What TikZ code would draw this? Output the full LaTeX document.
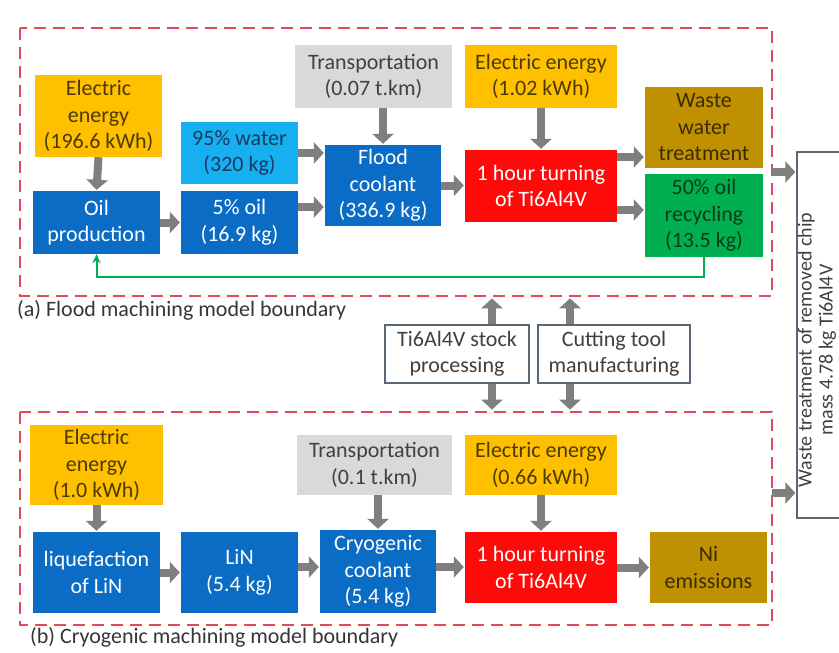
\documentclass[tikz,border=0pt]{standalone}
\usepackage{fontspec}
\setmainfont{Carlito}
\usetikzlibrary{arrows.meta}
\definecolor{cOrange}{HTML}{FFC000}
\definecolor{cOrangeT}{HTML}{4D3A00}
\definecolor{cBlue}{HTML}{0A6CC4}
\definecolor{cLBlue}{HTML}{16B0F0}
\definecolor{cLBlueT}{HTML}{1B3A63}
\definecolor{cGray}{HTML}{D9D9D9}
\definecolor{cGrayT}{HTML}{404040}
\definecolor{cRed}{HTML}{FF0A0A}
\definecolor{cGold}{HTML}{BF9000}
\definecolor{cGoldT}{HTML}{3A2C00}
\definecolor{cGreen}{HTML}{00B050}
\definecolor{cGreenT}{HTML}{0E3A1C}
\definecolor{cArrow}{HTML}{7F7F7F}
\definecolor{cDash}{HTML}{E24A5A}
\definecolor{cFrame}{HTML}{5A6878}
\begin{document}
\begin{tikzpicture}[x=1pt,y=-1pt,
  box/.style={rectangle, inner sep=2pt, align=center, font=\fontsize{22}{26.5}\selectfont},
  obox/.style={box, fill=cOrange, text=cOrangeT},
  bbox/.style={box, fill=cBlue, text=white},
  lbox/.style={box, fill=cLBlue, text=cLBlueT},
  gbox/.style={box, fill=cGray, text=cGrayT},
  rbox/.style={box, fill=cRed, text=white},
  aubox/.style={box, fill=cGold, text=cGoldT},
  grbox/.style={box, fill=cGreen, text=cGreenT},
  wbox/.style={box, draw=cFrame, line width=1.3pt, fill=white, text=cGrayT},
  garrow/.style={draw=cArrow, line width=8pt, -{Triangle[length=10pt,width=21pt]}, shorten >=1pt},
  boundary/.style={draw=cDash, line width=2pt, dash pattern=on 12pt off 7pt},
  greenline/.style={draw=cGreen, line width=2pt, -{Stealth[length=9pt,width=8pt]}},
  caption/.style={anchor=west, font=\fontsize{22}{26}\selectfont, text=cGrayT!85!black, inner sep=0pt}
]
\useasboundingbox (0,0) rectangle (839,653);
\clip (0,0) rectangle (839,653);
\fill[white] (0,0) rectangle (839,653);

% boundaries
\draw[boundary] (20,28) rectangle (772,296);
\draw[boundary] (20,412) rectangle (772,625);
\coordinate (bA) at (772,172);
\coordinate (bB) at (772,493);
\coordinate (gl) at (0,277);

% ---------- flood machining ----------
\node[obox, minimum width=127pt, minimum height=82pt] (e1) at (98.5,116) {Electric\\energy\\(196.6 kWh)};
\node[bbox, minimum width=127pt, minimum height=63pt] (oil) at (96.5,222.5) {Oil\\production};
\node[lbox, minimum width=117pt, minimum height=62pt] (water) at (239.5,153) {95\% water\\(320 kg)};
\node[bbox, minimum width=117pt, minimum height=63pt] (oil5) at (239.5,222.5) {5\% oil\\(16.9 kg)};
\node[gbox, minimum width=157pt, minimum height=63pt] (tr1) at (373.5,76.5) {Transportation\\(0.07 t.km)};
\node[bbox, minimum width=116pt, minimum height=81pt] (flood) at (383,185.5) {Flood\\coolant\\(336.9 kg)};
\node[obox, minimum width=152pt, minimum height=63pt] (e2) at (541,76.5) {Electric energy\\(1.02 kWh)};
\node[rbox, minimum width=152pt, minimum height=72pt] (turn1) at (541,186) {1 hour turning\\of Ti6Al4V};
\node[aubox, minimum width=118pt, minimum height=81pt] (ww) at (704,127.5) {Waste\\water\\treatment};
\node[grbox, minimum width=118pt, minimum height=83pt] (rec) at (704,215.5) {50\% oil\\recycling\\(13.5 kg)};

\draw[garrow] (e1.south) -- (oil.north);
\draw[garrow] (oil.east) -- (oil5.west);
\draw[garrow] (water.east) -- (water.east -| flood.west);
\draw[garrow] (oil5.east |- 0,207) -- (flood.west |- 0,207);
\draw[garrow] (tr1.south -| flood.north) -- (flood.north);
\draw[garrow] (flood.east) -- (flood.east -| turn1.west);
\draw[garrow] (e2.south) -- (turn1.north);
\draw[garrow] (turn1.east |- 0,157) -- (ww.west |- 0,157);
\draw[garrow] (turn1.east |- 0,210) -- (rec.west |- 0,210);
\draw[greenline] (rec.south) -- (rec.south |- gl) -- (oil.south |- gl) -- (oil.south);

\node[caption] (capA) at (17,310) {(a) Flood machining model boundary};

% ---------- shared inputs ----------
\node[wbox, minimum width=144pt, minimum height=58pt] (stock) at (457,354) {Ti6Al4V stock\\processing};
\node[wbox, minimum width=152pt, minimum height=58pt] (tool) at (614,354) {Cutting tool\\manufacturing};
\draw[garrow] ([xshift=35pt]stock.north) -- ++(0,-27);
\draw[garrow] ([xshift=-44pt]tool.north) -- ++(0,-27);
\draw[garrow] ([xshift=35pt]stock.south) -- ++(0,27);
\draw[garrow] ([xshift=-44pt]tool.south) -- ++(0,27);

% waste treatment
\node[wbox, minimum width=52pt, minimum height=366pt] (waste) at (823,335) {};
\node[rotate=90, align=center, font=\fontsize{20}{21}\selectfont, text=cGrayT, inner sep=0pt] (wastetxt) at (817,350) {Waste treatment of removed chip\\mass 4.78 kg Ti6Al4V};
\draw[garrow] (bA) -- (bA -| waste.west);
\draw[garrow] (bB) -- (bB -| waste.west);

% ---------- cryogenic machining ----------
\node[obox, minimum width=133pt, minimum height=80pt] (e3) at (96.5,465) {Electric\\energy\\(1.0 kWh)};
\node[bbox, minimum width=127pt, minimum height=81pt] (liq) at (96.5,572.5) {liquefaction\\of LiN};
\node[bbox, minimum width=117pt, minimum height=81pt] (lin) at (239.5,572.5) {LiN\\(5.4 kg)};
\node[bbox, minimum width=116pt, minimum height=83pt] (cryo) at (378,571.5) {Cryogenic\\coolant\\(5.4 kg)};
\node[gbox, minimum width=155pt, minimum height=60pt] (tr2) at (374.5,465) {Transportation\\(0.1 t.km)};
\node[obox, minimum width=152pt, minimum height=60pt] (e4) at (541,465) {Electric energy\\(0.66 kWh)};
\node[rbox, minimum width=152pt, minimum height=71pt] (turn2) at (541,567.5) {1 hour turning\\of Ti6Al4V};
\node[aubox, minimum width=117pt, minimum height=71pt] (ni) at (708.5,567.5) {Ni\\emissions};

\draw[garrow] (e3.south -| liq.north) -- (liq.north);
\draw[garrow] (liq.east) -- (liq.east -| lin.west);
\draw[garrow] (lin.east |- 0,567) -- (cryo.west |- 0,567);
\draw[garrow] (tr2.south -| cryo.north) -- (cryo.north);
\draw[garrow] (e4.south) -- (turn2.north);
\draw[garrow] (cryo.east |- 0,567) -- (turn2.west |- 0,567);
\draw[garrow] (turn2.east) -- (ni.west);

\node[caption] (capB) at (30,637) {(b) Cryogenic machining model boundary};
\end{tikzpicture}
\end{document}
